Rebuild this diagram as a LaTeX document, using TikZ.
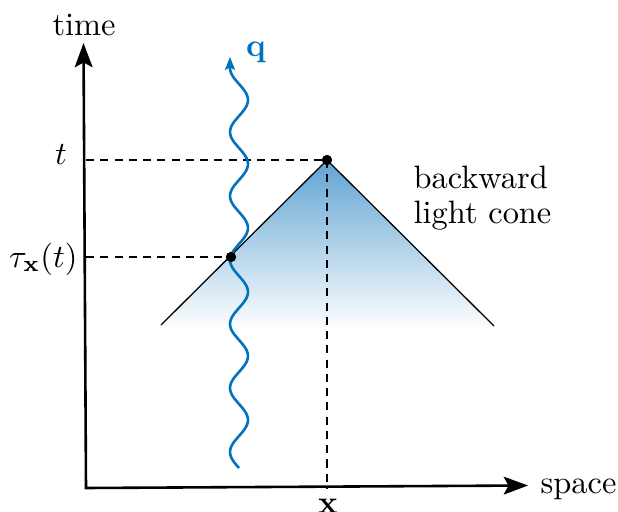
\documentclass[tikz,border=0pt]{standalone}
\usetikzlibrary{arrows.meta}
\definecolor{qblue}{RGB}{0,114,189}
\definecolor{conetop}{RGB}{96,164,210}
\pgfdeclareverticalshading{conefade}{100bp}{color(0bp)=(white); color(25bp)=(white); color(29bp)=(white); color(75bp)=(conetop); color(100bp)=(conetop)}
\begin{document}
\begin{tikzpicture}[x=0.3086pt,y=-0.3086pt,
  axis/.style={line width=0.8pt, {Stealth[length=7.5pt,width=5.5pt,inset=1.5pt]}-{Stealth[length=7.5pt,width=5.5pt,inset=1.5pt]}},
  guide/.style={line width=0.6pt, dash pattern=on 2.5pt off 1.9pt},
  conel/.style={line width=0.4pt},
  wave/.style={qblue, line width=0.8pt, -{Stealth[length=4pt,width=3.1pt,inset=0.8pt]}},
  dot/.style={circle, fill=black, inner sep=0pt, minimum size=3.1pt},
  lbl/.style={inner sep=0pt}]
\useasboundingbox (0,0) rectangle (618,512);
% coordinates
\coordinate (O) at (86,488);
\coordinate (ytip) at (83.5,43);
\coordinate (xtip) at (528,485.5);
\coordinate (ty) at (86,160);
\coordinate (tauy) at (86,257);
\coordinate (tx) at (327,488);
\coordinate (cl) at (161,325);
\coordinate (cr) at (494,326);
\coordinate (sl) at (142,345);
\coordinate (sr) at (512,345);
\coordinate (apexc) at (327,160);
% shaded cone
\shade[shading=conefade] (apexc) -- (sl) -- (sr) -- cycle;
% points
\node[dot] (A) at (327,160) {};
\node[dot] (B) at (231,257) {};
% guides
\draw[guide] (ty) -- (A.center);
\draw[guide] (A.center) -- (tx);
\draw[guide] (tauy) -- (B.center);
% cone lines
\draw[conel] (cl) -- (A.center) -- (cr);
% wave
\draw[wave] plot[domain=468:68, samples=160, variable=\t] ({239+9*cos(5.625*(\t-100))}, \t) -- (230,57);
% dots on top
\node[dot] at (A) {};
\node[dot] at (B) {};
% axes
\draw[axis] (ytip) -- (O) -- (xtip);
% labels
\node[lbl, anchor=base] (time) at (84,35) {time};
\node[lbl, anchor=base west] (space) at (540,493) {space};
\node[lbl, anchor=north] (xl) at (328,498) {$\mathbf{x}$};
\node[lbl, anchor=base] (tl) at (61,165) {$t$};
\node[lbl, anchor=east] (taul) at (78,259) {$\tau_{\mathbf{x}}(t)$};
\node[lbl, anchor=base, text=qblue] (ql) at (256,57) {$\mathbf{q}$};
\node[lbl, anchor=base west] (bw) at (413,188) {backward};
\node[lbl, anchor=base west] (lc) at (413,223) {light cone};
\end{tikzpicture}
\end{document}
